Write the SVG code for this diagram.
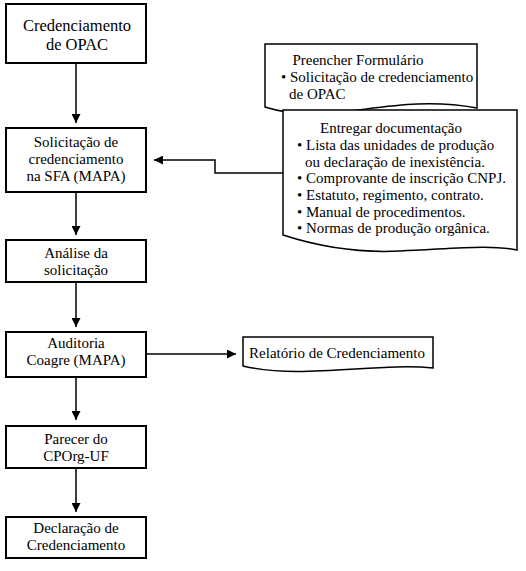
<svg xmlns="http://www.w3.org/2000/svg" width="526" height="571" viewBox="0 0 526 571">
<style>
  .box { fill: #fff; stroke: #000; stroke-width: 2; }
  .doc { fill: #fff; stroke: #000; stroke-width: 1.5; }
  .t { font-family: "Liberation Serif", "Times New Roman", serif; font-size: 15px; fill: #000; }
  .c { text-anchor: middle; }
  .big { font-size: 16.5px; }
  .conn { fill: none; stroke: #000; stroke-width: 1.5; }
</style>
<defs>
  <marker id="ah" viewBox="0 0 10 10" refX="10" refY="5" markerWidth="6" markerHeight="6" markerUnits="strokeWidth" orient="auto">
    <path d="M0,0 L10,5 L0,10 z" fill="#000"/>
  </marker>
</defs>
<rect width="526" height="571" fill="#fff"/>

<g id="connectors">
  <line class="conn" x1="76" y1="63" x2="76" y2="123" marker-end="url(#ah)"/>
  <line class="conn" x1="76" y1="192" x2="76" y2="235" marker-end="url(#ah)"/>
  <line class="conn" x1="76" y1="282" x2="76" y2="327" marker-end="url(#ah)"/>
  <line class="conn" x1="76" y1="377" x2="76" y2="420" marker-end="url(#ah)"/>
  <line class="conn" x1="76" y1="468" x2="76" y2="512" marker-end="url(#ah)"/>
  <line class="conn" x1="146" y1="354" x2="236" y2="354" marker-end="url(#ah)"/>
  <polyline class="conn" points="283,173 215,173 215,160 154,160" marker-end="url(#ah)"/>
</g>

<g id="n1">
  <rect class="box" x="6" y="4" width="140" height="59"/>
  <text class="t c big" x="77" y="31">Credenciamento</text>
  <text class="t c big" x="77" y="50">de OPAC</text>
</g>

<g id="n2">
  <rect class="box" x="6" y="128" width="140" height="64"/>
  <text class="t c" x="76" y="147">Solicitação de</text>
  <text class="t c" x="76" y="164">credenciamento</text>
  <text class="t c" x="76" y="181">na SFA (MAPA)</text>
</g>

<g id="n3">
  <rect class="box" x="6" y="240" width="140" height="42"/>
  <text class="t c" x="76" y="258">Análise da</text>
  <text class="t c" x="76" y="275">solicitação</text>
</g>

<g id="n4">
  <rect class="box" x="6" y="332" width="140" height="45"/>
  <text class="t c" x="76" y="348">Auditoria</text>
  <text class="t c" x="76" y="365">Coagre (MAPA)</text>
</g>

<g id="n5">
  <rect class="box" x="6" y="426" width="140" height="42"/>
  <text class="t c" x="76" y="444">Parecer do</text>
  <text class="t c" x="76" y="461">CPOrg-UF</text>
</g>

<g id="n6">
  <rect class="box" x="6" y="517" width="140" height="41"/>
  <text class="t c" x="76" y="533">Declaração de</text>
  <text class="t c" x="76" y="550">Credenciamento</text>
</g>

<g id="doc1">
  <path class="doc" d="M265,44 H477 V108 C390,92 330,128 265,107 Z"/>
  <text class="t c" x="358" y="65">Preencher Formulário</text>
  <text class="t" x="281" y="82">• Solicitação de credenciamento</text>
  <text class="t" x="289" y="99">de OPAC</text>
</g>

<g id="doc2">
  <path class="doc" d="M283,110 H517 V250 C490,244 450,249 400,251 C360,253 320,247 283,235 Z"/>
  <text class="t c" x="391" y="133">Entregar documentação</text>
  <text class="t" x="297" y="150">• Lista das unidades de produção</text>
  <text class="t" x="305" y="166.5">ou declaração de inexistência.</text>
  <text class="t" x="297" y="183">• Comprovante de inscrição CNPJ.</text>
  <text class="t" x="297" y="200">• Estatuto, regimento, contrato.</text>
  <text class="t" x="297" y="216.5">• Manual de procedimentos.</text>
  <text class="t" x="297" y="233">• Normas de produção orgânica.</text>
</g>

<g id="doc3">
  <path class="doc" d="M243,337 H433 V368 C380,362 300,380 243,366 Z"/>
  <text class="t c" x="337" y="358">Relatório de Credenciamento</text>
</g>
</svg>
